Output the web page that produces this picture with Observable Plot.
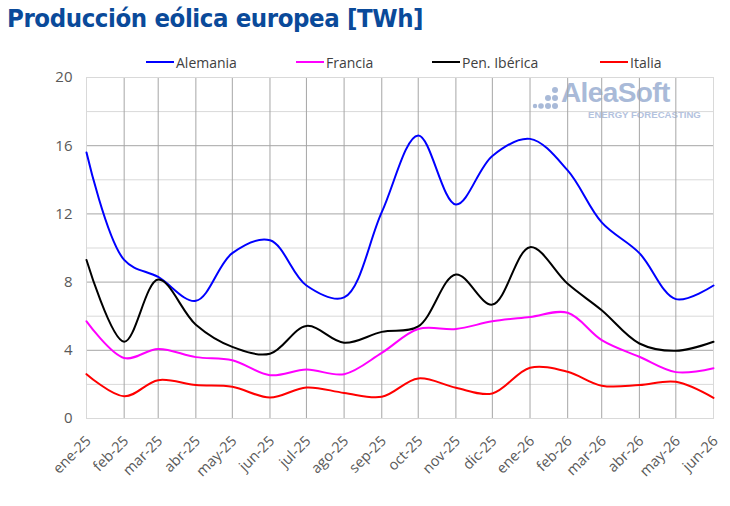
<!DOCTYPE html>
<html><head><meta charset="utf-8">
<script src="https://cdn.jsdelivr.net/npm/d3@7"></script>
<script src="https://cdn.jsdelivr.net/npm/@observablehq/plot@0.6"></script>
<style>
body{margin:0;background:#fff;width:730px;height:506px;overflow:hidden;position:relative;font-family:"Open Sans",sans-serif}
#title{position:absolute;left:7px;top:3px;font:bold 25.5px "DejaVu Sans Condensed",sans-serif;letter-spacing:-0.4px;color:#0a4a9a;white-space:nowrap}
#legend{position:absolute;top:52px;left:0;width:730px;height:20px;font-size:14px;color:#404040}
.item{position:absolute;top:0;height:20px;display:flex;align-items:center;white-space:nowrap}
.sw{width:28px;height:2px;margin-right:2px}
#wm{position:absolute;left:531px;top:81px;width:190px;height:45px;color:#a9bad8}
#wm .big{position:absolute;left:30px;top:-4px;font:bold 28px "Liberation Sans",sans-serif;letter-spacing:-0.6px}
#wm .small{position:absolute;left:57px;top:28px;font:bold 9.6px "Liberation Sans",sans-serif;color:#b3c2de}
#wm svg{position:absolute;left:0;top:0}
#chart{position:absolute;left:0;top:60px}
</style></head>
<body>
<div id="wm"><svg width="30" height="40"><g fill="#a9bad8">
<circle cx="24" cy="9" r="3"/><circle cx="17" cy="17" r="3"/><circle cx="24" cy="17" r="3"/>
<circle cx="10" cy="25" r="2.8"/><circle cx="17" cy="25" r="3"/><circle cx="24" cy="25" r="3"/><circle cx="4" cy="25" r="2.2"/></g></svg>
<div class="big">AleaSoft</div><div class="small">ENERGY FORECASTING</div></div>
<div id="title">Producción eólica europea [TWh]</div>
<div id="legend"></div>
<div id="chart"></div>
<script>
const months = ["ene-25","feb-25","mar-25","abr-25","may-25","jun-25","jul-25","ago-25","sep-25","oct-25","nov-25","dic-25","ene-26","feb-26","mar-26","abr-26","may-26","jun-26"];
const alemania = [15.6, 9.3, 8.3, 6.9, 9.7, 10.45, 7.8, 7.1, 12.1, 16.6, 12.55, 15.4, 16.4, 14.55, 11.5, 9.7, 7.0, 7.8];
const francia  = [5.7, 3.55, 4.08, 3.6, 3.42, 2.54, 2.87, 2.6, 3.85, 5.25, 5.25, 5.7, 5.95, 6.2, 4.6, 3.62, 2.72, 2.95];
const iberica  = [9.3, 4.5, 8.15, 5.5, 4.2, 3.8, 5.43, 4.44, 5.08, 5.4, 8.45, 6.68, 10.05, 7.9, 6.35, 4.4, 3.97, 4.5];
const italia   = [2.6, 1.3, 2.25, 1.96, 1.86, 1.23, 1.82, 1.5, 1.27, 2.35, 1.8, 1.47, 2.98, 2.74, 1.92, 1.96, 2.15, 1.21];
const series = ["Alemania","Francia","Pen. Ibérica","Italia"];
const colors = ["#0000ff","#ff00ff","#000000","#ff0000"];
const yTicks = [0,4,8,12,16,20];
const yMinor = [2,6,10,14,18];

const dates = months.map((m,i)=>new Date(Date.UTC(2025,i,1)));
const labelOf = new Map(dates.map((d,i)=>[+d, months[i]]));
const data = [];
[alemania,francia,iberica,italia].forEach((arr,k)=>arr.forEach((v,i)=>data.push({date:dates[i], value:v, serie:series[k]})));

// legend
const legendLeft = [146, 296, 432, 600];
const lg = document.getElementById("legend");
series.forEach((s,i)=>{
  const it = document.createElement("div");
  it.className="item"; it.style.left = legendLeft[i]+"px";
  it.innerHTML = `<span class="sw" style="background:${colors[i]}"></span><span>${s}</span>`;
  lg.appendChild(it);
});

const chart = Plot.plot({
  width:730, height:446,
  marginLeft:86, marginRight:17, marginTop:17, marginBottom:88,
  style:{background:"transparent", fontFamily:"'Open Sans', sans-serif", fontSize:"14px", color:"#595959", overflow:"visible"},
  x:{type:"utc", domain:[dates[0], dates[dates.length-1]]},
  y:{domain:[0,20]},
  color:{domain:series, range:colors},
  marks:[
    Plot.gridY(yMinor, {stroke:"#d9d9d9", strokeOpacity:1}),
    Plot.gridY(yTicks.slice(1,-1), {stroke:"#a6a6a6", strokeOpacity:1}),
    Plot.gridX(dates.slice(1,-1), {stroke:"#a6a6a6", strokeOpacity:1}),
    Plot.frame({stroke:"#d9d9d9"}),
    Plot.axisY(yTicks, {tickSize:0, tickPadding:14, fontSize:15, label:null}),
    Plot.axisX(dates, {tickSize:0, tickPadding:20, dx:2, tickRotate:-45, fontSize:14.5, label:null, tickFormat:d=>labelOf.get(+d)}),
    Plot.line(data, {x:"date", y:"value", stroke:"serie", curve:"catmull-rom", strokeWidth:2})
  ]
});
document.getElementById("chart").appendChild(chart);
</script>
</body></html>
